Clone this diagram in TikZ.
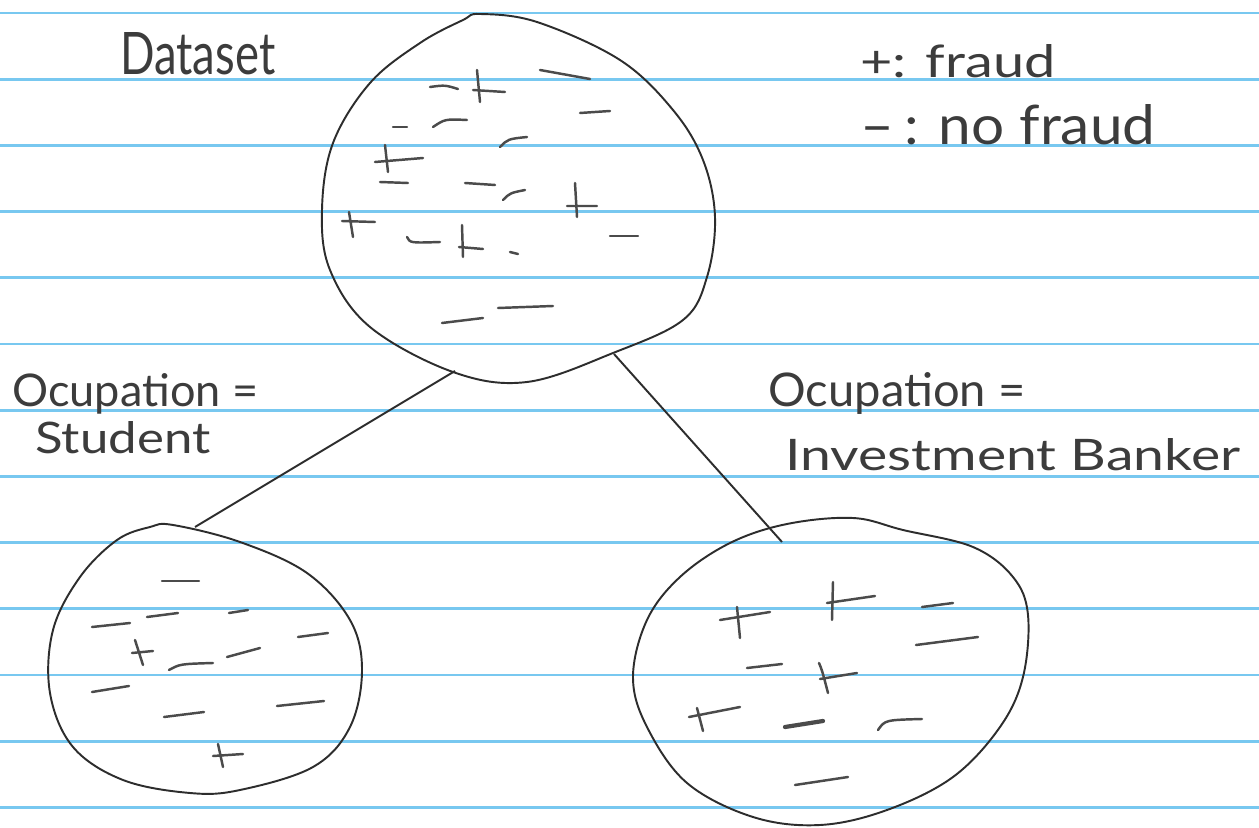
\documentclass[tikz,border=0pt]{standalone}
\usepackage{fontspec}
\setmainfont{Lato}
\usepackage{graphicx}

\definecolor{ruleblue}{RGB}{120,200,240}
\definecolor{ink}{RGB}{45,45,45}
\definecolor{pencil}{RGB}{75,75,75}
\definecolor{penlabel}{RGB}{60,60,60}

% handwritten label squeezed into a given width and height
\newcommand\scribble[3]{\resizebox{#1}{#2}{#3}}

\tikzset{
  rule/.style={draw=ruleblue, line width=1.5pt},
  outline/.style={draw=ink, line width=1.1pt, line join=round},
  tally/.style={draw=pencil, line width=1.4pt, line cap=round},
  branch/.style={draw=ink, line width=1.1pt},
  handtext/.style={inner sep=0pt, anchor=base west, text=penlabel},
}

\begin{document}
\begin{tikzpicture}[x=0.02cm, y=-0.02cm]
  \useasboundingbox (0,0) rectangle (1259,828);
  \fill[white] (0,0) rectangle (1259,828);

  % ruled paper
  \foreach \k in {0,...,12}
    \draw[rule] (0,{13+66.2*\k}) -- (1259,{13+66.2*\k});

  % the three sets
  \draw[outline] plot[smooth cycle, tension=0.6] coordinates {
    (480,14) (537,22) (620,60) (673,110) (703,160) (715,217) (707,277)
    (683,320) (613,353) (527,382) (453,372) (370,327) (330,270) (322,210)
    (333,143) (370,83) (420,43) (463,20)};
  \draw[outline] plot[smooth cycle, tension=0.6] coordinates {
    (173,525) (240,542) (307,573) (350,620) (362,670) (350,727) (313,767)
    (240,790) (190,793) (123,780) (73,747) (50,693) (53,630) (80,577)
    (117,540) (150,527)};
  \draw[outline] plot[smooth cycle, tension=0.6] coordinates {
    (730,543) (787,524) (853,518) (903,530) (973,547) (1013,577) (1028,615)
    (1023,677) (1000,727) (953,777) (887,810) (820,825) (753,817) (687,783)
    (647,727) (633,677) (647,620) (680,577)};

  % branch end points
  \coordinate (rootL) at (455,371);
  \coordinate (rootR) at (614,354);
  \coordinate (student) at (195,527);
  \coordinate (banker) at (782,542);
  \draw[branch] (rootL) -- (student);
  \draw[branch] (rootR) -- (banker);

  % dataset: pluses
  \draw[tally] (477,70) -- (480,102) (473,90) -- (505,92);
  \draw[tally] (385,145) -- (388,172) (375,162) -- (423,158);
  \draw[tally] (575,183) -- (577,217) (567,206) -- (597,206);
  \draw[tally] (349,212) -- (353,237) (342,221) -- (375,222);
  \draw[tally] (462,225) -- (463,257) (459,247) -- (483,249);
  % dataset: minuses
  \draw[tally] (430,87) .. controls (445,85) .. (458,89);
  \draw[tally] (540,70) -- (590,79);
  \draw[tally] (393,127) -- (407,127);
  \draw[tally] (433,127) .. controls (445,119) .. (467,120);
  \draw[tally] (580,113) -- (610,111);
  \draw[tally] (500,147) .. controls (508,139) .. (527,137);
  \draw[tally] (380,182) -- (408,183);
  \draw[tally] (465,183) -- (495,185);
  \draw[tally] (503,200) .. controls (510,193) .. (525,190);
  \draw[tally] (407,237) .. controls (410,243) .. (440,242);
  \draw[tally] (510,252) -- (518,254);
  \draw[tally] (610,236) -- (638,236);
  \draw[tally] (498,308) -- (553,306);
  \draw[tally] (442,323) -- (483,318);

  % student: pluses
  \draw[tally] (135,640) -- (143,665) (132,653) -- (153,651);
  \draw[tally] (218,744) -- (223,767) (213,756) -- (243,754);
  % student: minuses
  \draw[tally] (162,581) -- (199,581);
  \draw[tally] (92,627) -- (130,623);
  \draw[tally] (147,617) -- (178,613);
  \draw[tally] (229,613) -- (248,610);
  \draw[tally] (298,637) -- (328,633);
  \draw[tally] (169,670) .. controls (180,664) .. (213,663);
  \draw[tally] (227,657) -- (260,648);
  \draw[tally] (92,692) -- (129,686);
  \draw[tally] (164,717) -- (204,712);
  \draw[tally] (277,706) -- (324,701);

  % investment banker: pluses
  \draw[tally] (737,607) -- (740,638) (720,620) -- (770,612);
  \draw[tally] (833,582) -- (832,620) (827,603) -- (875,596);
  \draw[tally] (819,663) .. controls (822,670) .. (828,693) (820,679) -- (857,673);
  \draw[tally] (697,708) -- (703,731) (689,717) -- (740,707);
  % investment banker: minuses
  \draw[tally] (922,607) -- (953,603);
  \draw[tally] (916,645) -- (978,637);
  \draw[tally] (747,668) -- (782,664);
  \draw[tally, line width=2.4pt] (785,727) -- (823,721);
  \draw[tally] (878,730) .. controls (885,720) .. (922,719);
  \draw[tally] (795,785) -- (848,777);

  % labels
  \node[handtext] (dataset) at (120,75) {\scribble{3.1cm}{0.84cm}{Dataset}};
  \node[handtext] (keyplus) at (860,78) {\scribble{3.9cm}{0.66cm}{+: fraud}};
  \node[handtext] (keyminus) at (860,145) {\scribble{5.9cm}{0.8cm}{–\,: no fraud}};
  \node[handtext] (occL) at (12,406) {\scribble{4.92cm}{0.66cm}{Ocupation =}};
  \node[handtext] (studentlabel) at (35,453) {\scribble{3.5cm}{0.64cm}{Student}};
  \node[handtext] (occR) at (768,406) {\scribble{5.14cm}{0.68cm}{Ocupation =}};
  \node[handtext] (bankerlabel) at (785,470) {\scribble{9.1cm}{0.64cm}{Investment Banker}};
\end{tikzpicture}
\end{document}
